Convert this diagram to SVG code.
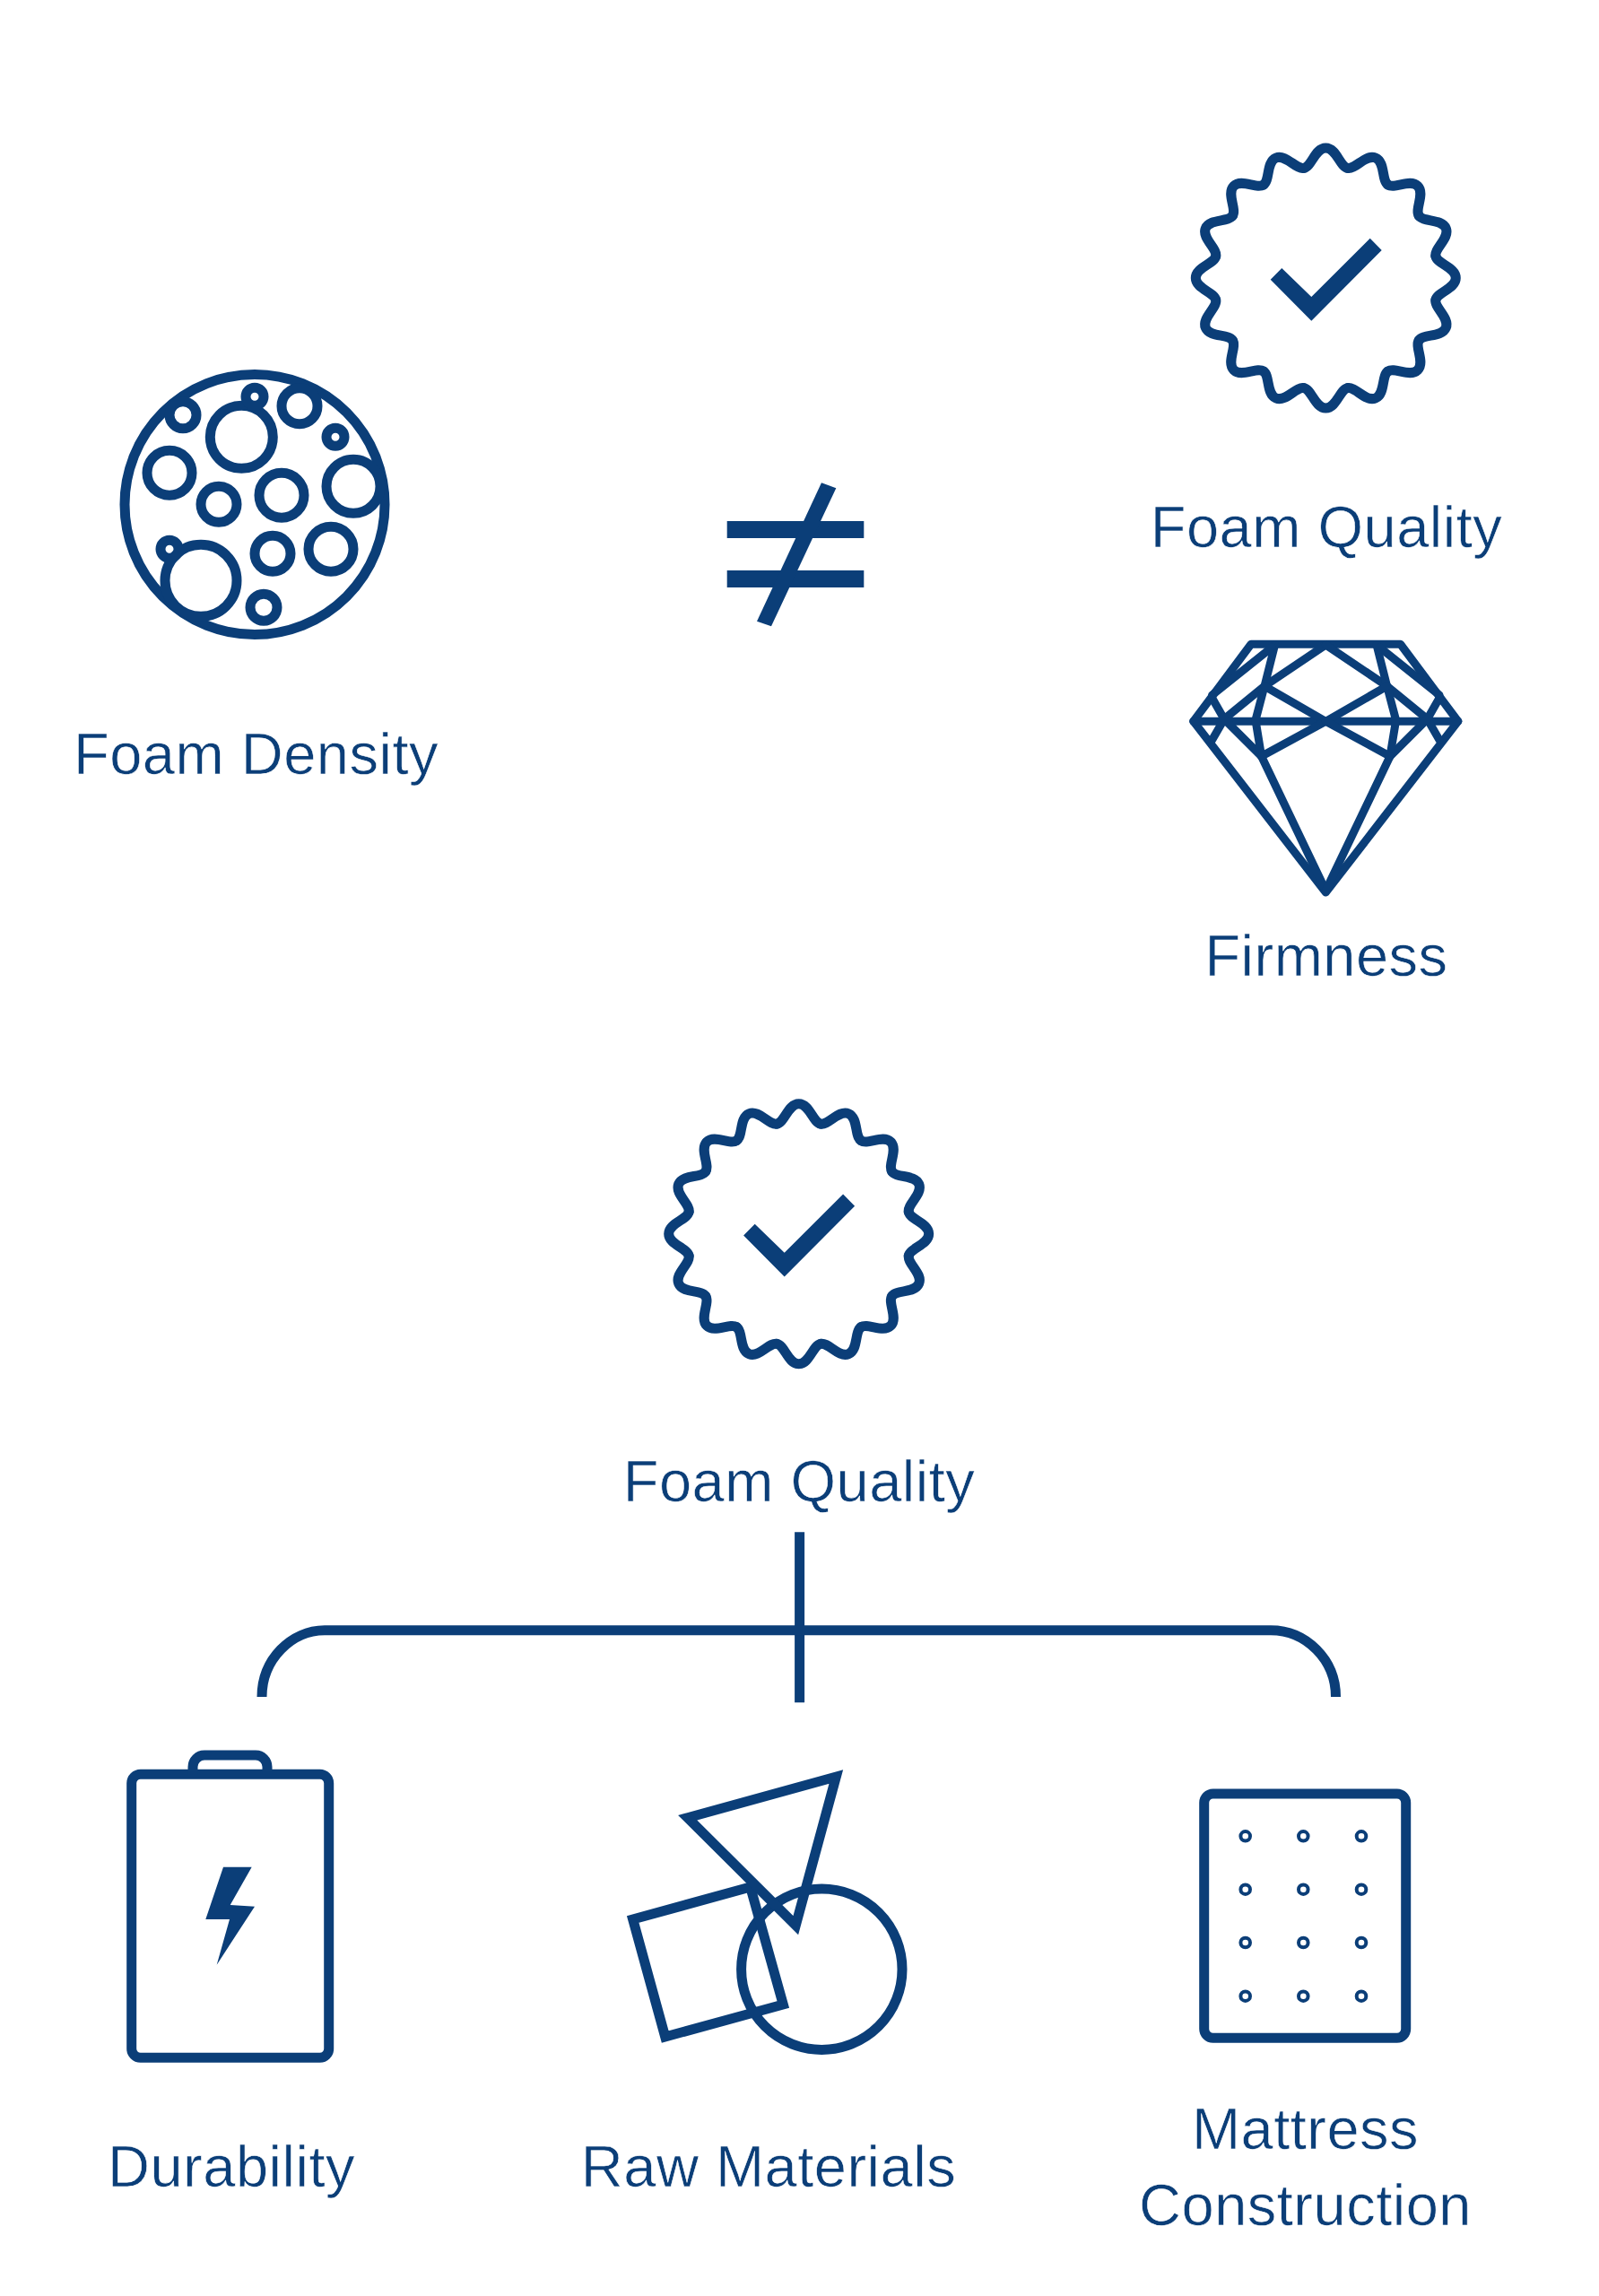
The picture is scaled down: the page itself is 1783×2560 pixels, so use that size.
<svg xmlns="http://www.w3.org/2000/svg" xmlns:xlink="http://www.w3.org/1999/xlink" width="1783" height="2560" viewBox="0 0 1783 2560">
<style>
.l{fill:none;stroke:#0b3e78;stroke-width:11}
.r{stroke-linejoin:round;stroke-linecap:round}
.f{fill:#0b3e78;stroke:none}
.d{fill:none;stroke:#0b3e78;stroke-width:9;stroke-linejoin:round;stroke-linecap:round}
.p{fill:none;stroke:#0b3e78;stroke-width:4}
.t{font-family:"Liberation Sans",Arial,sans-serif;font-size:65px;letter-spacing:.5px;fill:#0b3e78;stroke:#fff;stroke-width:.6px;text-anchor:middle}
</style>
<defs>
<path id="lobe" class="l r" d="M-24.4,-122.6 C-15.6,-124.3 -12,-145 0,-145 C12,-145 15.6,-124.3 24.4,-122.6"/>
<g id="badge">
<use href="#lobe"/><use href="#lobe" transform="rotate(22.5)"/><use href="#lobe" transform="rotate(45)"/><use href="#lobe" transform="rotate(67.5)"/>
<use href="#lobe" transform="rotate(90)"/><use href="#lobe" transform="rotate(112.5)"/><use href="#lobe" transform="rotate(135)"/><use href="#lobe" transform="rotate(157.5)"/>
<use href="#lobe" transform="rotate(180)"/><use href="#lobe" transform="rotate(202.5)"/><use href="#lobe" transform="rotate(225)"/><use href="#lobe" transform="rotate(247.5)"/>
<use href="#lobe" transform="rotate(270)"/><use href="#lobe" transform="rotate(292.5)"/><use href="#lobe" transform="rotate(315)"/><use href="#lobe" transform="rotate(337.5)"/>
<polygon class="f" points="-49,-11 -16,21 49.4,-44.3 62.4,-31 -16,47.7 -61.6,1.7"/>
</g>
<g id="diamond-side">
<path class="d" d="M0,19 L-68.3,65 L-113.3,101.7 L-126.7,125"/>
<path class="d" d="M-126.7,78.3 L-113.3,101.7 L-71.7,143.3 L0,293"/>
<path class="d" d="M-56.7,19 L-68.3,65 L-78.3,103 L-71.7,143.3"/>
<path class="d" d="M-60,21.7 L-126.7,75"/>
<path class="d" d="M-68.3,65 L0,104.3"/>
<path class="d" d="M-71.7,143.3 L0,104.3"/>
</g>
</defs>
<rect width="1783" height="2560" fill="#fff"/>
<g id="foam-density">
<circle class="l" cx="284" cy="562.5" r="145"/>
<circle class="l" cx="204" cy="462.7" r="15"/>
<circle class="l" cx="269.3" cy="487.3" r="35"/>
<circle class="l" cx="284" cy="442.3" r="10"/>
<circle class="l" cx="334" cy="452.7" r="20"/>
<circle class="l" cx="374" cy="487.3" r="10"/>
<circle class="l" cx="189" cy="527.3" r="25"/>
<circle class="l" cx="244" cy="562.3" r="20"/>
<circle class="l" cx="314" cy="552.3" r="25"/>
<circle class="l" cx="394" cy="542.3" r="30"/>
<circle class="l" cx="369" cy="612.3" r="25"/>
<circle class="l" cx="304" cy="617.3" r="20"/>
<circle class="l" cx="189" cy="612.3" r="10"/>
<circle class="l" cx="224" cy="647.3" r="40"/>
<circle class="l" cx="294" cy="677.3" r="15"/>
<text class="t" x="285.5" y="862.7">Foam Density</text>
</g>
<g id="not-equal">
<rect class="f" x="810.7" y="581" width="152.6" height="19"/>
<rect class="f" x="810.7" y="636" width="152.6" height="19"/>
<polygon class="f" points="916,538.3 932.3,544.3 860,698.3 844,692.7"/>
</g>
<g id="foam-quality-top">
<use href="#badge" transform="translate(1478.3,310)"/>
<text class="t" x="1479" y="609.5">Foam Quality</text>
</g>
<g id="firmness">
<g transform="translate(1478.3,700)">
<path class="d" d="M-83.3,18.3 L-147.5,104.3 L0,295 L147.5,104.3 L83.3,18.3 Z"/>
<path class="d" d="M-147.5,104.3 H147.5"/>
<use href="#diamond-side"/>
<use href="#diamond-side" transform="scale(-1,1)"/>
</g>
<text class="t" x="1479" y="1087.5">Firmness</text>
</g>
<g id="foam-quality-main">
<use href="#badge" transform="translate(890.7,1375.7)"/>
<text class="t" x="891" y="1673.5">Foam Quality</text>
</g>
<g id="connectors">
<path class="l" d="M891.6,1708.3 V1898.3"/>
<path class="l" d="M292,1892 C292,1850 325,1817.7 362,1817.7 H1417 C1456,1817.7 1489.5,1850 1489.5,1892"/>
</g>
<g id="durability">
<rect class="l" x="146.7" y="1978.3" width="220" height="316" rx="10"/>
<path class="l" d="M215,1978 V1970 a13,13 0 0 1 13,-13 H285 a13,13 0 0 1 13,13 V1978"/>
<polygon class="f" points="249,2081.7 280.7,2081.7 256.7,2124 284,2125.7 241.7,2190.7 256,2140 229.3,2140"/>
<text class="t" x="258" y="2438">Durability</text>
</g>
<g id="raw-materials">
<circle class="l" cx="916.3" cy="2195.7" r="89.7"/>
<polygon class="l" points="705.7,2140 836.7,2104 873.3,2235 741.7,2271"/>
<polygon class="l" points="766.7,2026.7 932.3,1981 887.3,2146.7"/>
<text class="t" x="857" y="2438">Raw Materials</text>
</g>
<g id="mattress-construction">
<rect class="l" x="1342.7" y="2000" width="225" height="272.3" rx="10"/>
<circle class="p" cx="1388.7" cy="2047.3" r="5.3"/><circle class="p" cx="1453.3" cy="2047.3" r="5.3"/><circle class="p" cx="1518" cy="2047.3" r="5.3"/>
<circle class="p" cx="1388.7" cy="2106.7" r="5.3"/><circle class="p" cx="1453.3" cy="2106.7" r="5.3"/><circle class="p" cx="1518" cy="2106.7" r="5.3"/>
<circle class="p" cx="1388.7" cy="2166" r="5.3"/><circle class="p" cx="1453.3" cy="2166" r="5.3"/><circle class="p" cx="1518" cy="2166" r="5.3"/>
<circle class="p" cx="1388.7" cy="2225.7" r="5.3"/><circle class="p" cx="1453.3" cy="2225.7" r="5.3"/><circle class="p" cx="1518" cy="2225.7" r="5.3"/>
<text class="t" x="1455.5" y="2395.7">Mattress</text>
<text class="t" x="1455.5" y="2480.7">Construction</text>
</g>
</svg>
